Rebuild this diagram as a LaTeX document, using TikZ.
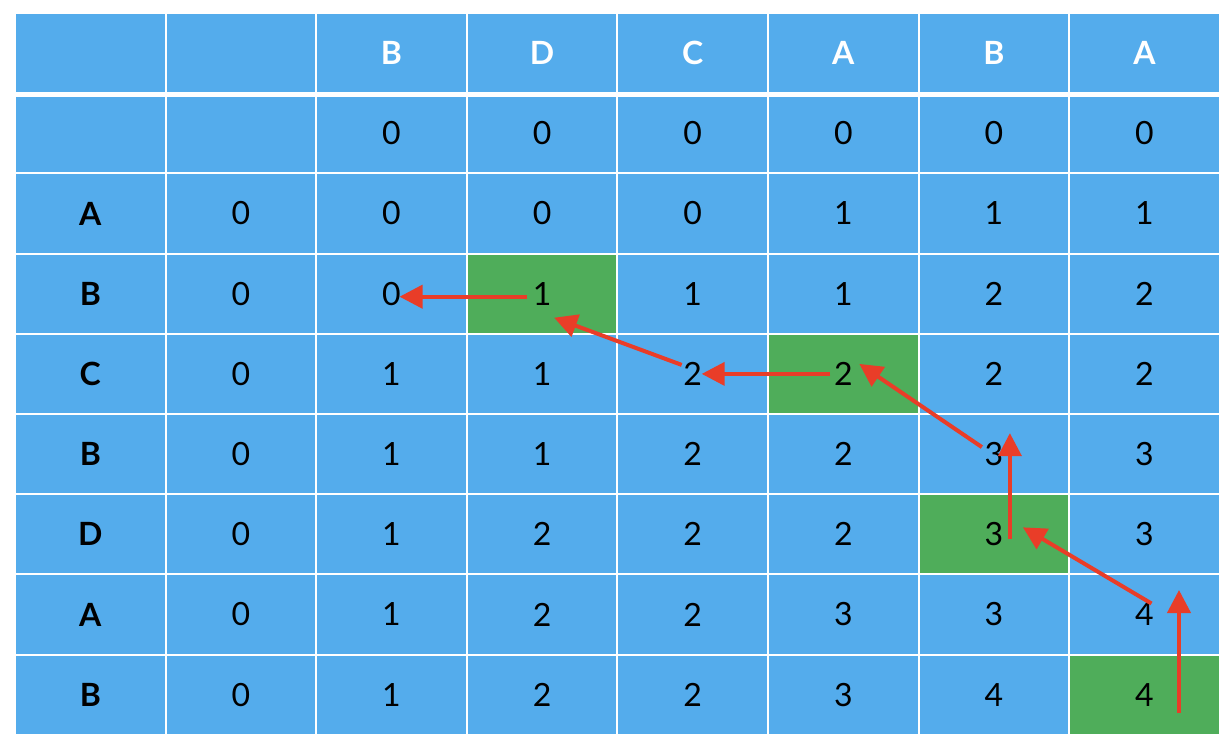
\documentclass[tikz,border=0pt]{standalone}
\usepackage{fontspec}
\setmainfont{Lato}
\usetikzlibrary{calc,arrows.meta}
\definecolor{cellblue}{RGB}{84,172,236}
\definecolor{cellgreen}{RGB}{79,173,90}
\definecolor{pathred}{RGB}{233,61,40}

\begin{document}
\begin{tikzpicture}[x=1pt,y=-1pt]
	% Define the styles for the cells and the back-tracking arrows
	\tikzstyle{cell}=[rectangle, draw=white, line width=2pt, fill=cellblue, inner sep=0pt,
	minimum width=150.6pt, minimum height=80.2pt, font=\fontsize{32}{34}\selectfont]
	\tikzstyle{back}=[draw=pathred, line width=4pt, -{Triangle[length=23pt,width=23pt]}]
	\tikzset{hit-3-3/.style={fill=cellgreen}, hit-4-5/.style={fill=cellgreen},
		hit-6-6/.style={fill=cellgreen}, hit-8-7/.style={fill=cellgreen}}
	
	\fill[white] (0,0) rectangle (1232,748);
	\useasboundingbox (0,0) rectangle (1232,748);
	
	% Table cells, row by row
	\foreach \r/\row in {0/{,,B,D,C,A,B,A}, 1/{,,0,0,0,0,0,0}, 2/{A,0,0,0,0,1,1,1},
		3/{B,0,0,1,1,1,2,2}, 4/{C,0,1,1,2,2,2,2}, 5/{B,0,1,1,2,2,3,3},
		6/{D,0,1,2,2,2,3,3}, 7/{A,0,1,2,2,3,3,4}, 8/{B,0,1,2,2,3,4,4}}
	\foreach \txt [count=\c from 0] in \row
	\node[cell, hit-\r-\c/.try] (cell-\r-\c) at ({15+150.6*(\c+0.5)},{13+80.2*(\r+0.5)})
	{\ifnum\r=0 \color{white}\bfseries\fi\ifnum\c=0 \bfseries\fi\txt};
	
	% Thick line under the header row
	\draw[white, line width=5pt] (cell-0-0.south west) -- (cell-0-7.south east);
	
	% Back-tracking arrows
	\foreach \a/\sa/\b/\sb [count=\i] in {8-7/{34.5,18.3}/7-7/{34.5,-24.5},
		7-7/{7,-11}/6-6/{29,-7}, 6-6/{16,5}/5-6/{16,-21}, 5-6/{-12,-7}/4-5/{16,-10},
		4-5/{-13,0}/4-4/{9,0}, 4-4/{-11,-9}/3-3/{12,24}, 3-3/{-15,3}/3-2/{8,3}}
	{
		\coordinate (tail\i) at ($(cell-\a)+(\sa)$);
		\coordinate (head\i) at ($(cell-\b)+(\sb)$);
		\draw[back] (tail\i) -- (head\i);
	}
\end{tikzpicture}
\end{document}
